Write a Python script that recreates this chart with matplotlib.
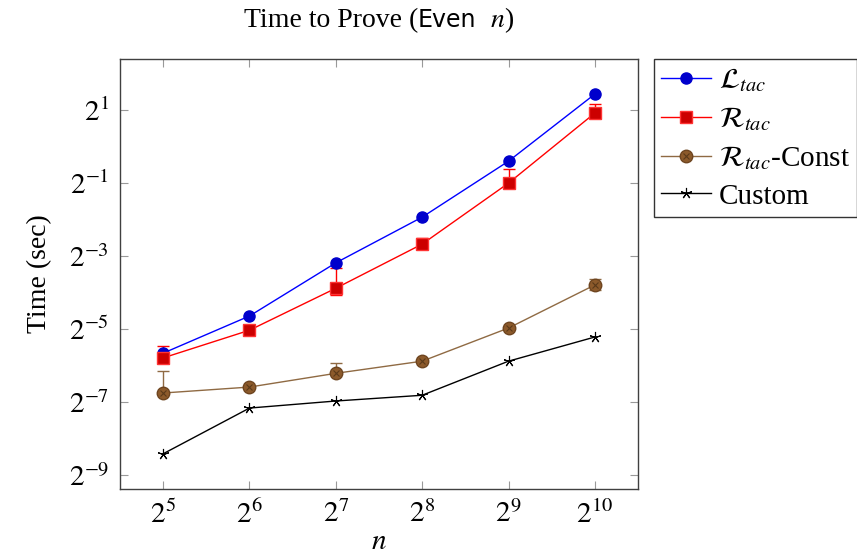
import matplotlib
matplotlib.use('Agg')
import matplotlib.pyplot as plt
from matplotlib.ticker import FixedLocator, NullLocator
from matplotlib.legend_handler import HandlerTuple

plt.rcParams['font.family'] = ['Liberation Serif', 'DejaVu Serif']
plt.rcParams['mathtext.fontset'] = 'stix'

### DATA (seconds)
n_vals = [32, 64, 128, 256, 512, 1024]
l_tac = [0.0198, 0.0401, 0.110, 0.262, 0.758, 2.71]
r_tac = [0.0181, 0.0306, 0.0679, 0.157, 0.500, 1.89]
r_const = [0.00929, 0.0104, 0.0135, 0.0170, 0.0319, 0.0723]
custom = [0.00293, 0.00698, 0.00798, 0.00890, 0.0170, 0.0269]

r_tac_err_lo = [0.0, 0.0, 0.0084, 0.0, 0.0, 0.0]
r_tac_err_hi = [0.0045, 0.0, 0.0315, 0.019, 0.151, 0.34]
r_const_err_lo = [0.0, 0.0, 0.0, 0.0, 0.0, 0.0067]
r_const_err_hi = [0.0048, 0.0, 0.0029, 0.0, 0.0, 0.0085]

x_exps = [5, 6, 7, 8, 9, 10]
y_exps = [1, -1, -3, -5, -7, -9]

W, H = 857, 558
fig = plt.figure(figsize=(W / 100, H / 100), dpi=100)
ax = fig.add_axes([120 / W, 1 - 489 / H, (638 - 120) / W, (489 - 59) / H])
ax.set_xscale('log', base=2)
ax.set_yscale('log', base=2)

blue = '#0000ff'
red = '#ff0000'
brown_line = '#8f6a43'
brown_fill = '#8c5a2b'

h1, = ax.plot(n_vals, l_tac, color=blue, lw=1.0, marker='o', ms=8,
              mfc='#0000cc', mec='#0000cc', zorder=4)

ax.errorbar(n_vals, r_tac, yerr=[r_tac_err_lo, r_tac_err_hi], fmt='none',
            ecolor=red, elinewidth=1.0, capsize=4, capthick=1.0, zorder=3)
h2, = ax.plot(n_vals, r_tac, color=red, lw=1.0, marker='s', ms=8,
              mfc='#cc0000', mec='#ff3333', zorder=4)

ax.errorbar(n_vals, r_const, yerr=[r_const_err_lo, r_const_err_hi], fmt='none',
            ecolor=brown_line, elinewidth=1.0, capsize=4, capthick=1.0, zorder=3)
h3, = ax.plot(n_vals, r_const, color=brown_line, lw=1.0, marker='o', ms=9,
              mfc=brown_fill, mec='#6e4520', zorder=4)
h3x, = ax.plot(n_vals, r_const, ls='none', marker='x', ms=5, mew=0.8,
               mec='#5a3a1a', zorder=5)

h4, = ax.plot(n_vals, custom, color='black', lw=1.0, marker=(5, 2, 0), ms=8,
              mew=0.8, zorder=4)

ax.set_xlim(2 ** 4.5, 2 ** 10.5)
ax.set_ylim(2 ** -9.38, 2 ** 2.40)

ax.xaxis.set_major_locator(FixedLocator([2 ** e for e in x_exps]))
ax.yaxis.set_major_locator(FixedLocator([2 ** e for e in y_exps]))
ax.xaxis.set_minor_locator(NullLocator())
ax.yaxis.set_minor_locator(NullLocator())
ax.set_xticklabels([r'$2^{%d}$' % e for e in x_exps])
ax.set_yticklabels([r'$2^{%d}$' % e for e in y_exps])
ax.tick_params(which='major', direction='in', length=6, width=0.8,
               color='#999999', labelsize=21, top=True, right=True, pad=8)

for sp in ax.spines.values():
    sp.set_color('#404040')
    sp.set_linewidth(1.0)

ax.set_xlabel(r'$n$', fontsize=21, labelpad=0)
ax.set_ylabel('Time (sec)', fontsize=20, labelpad=12)

# title in pieces: serif text, sans "Even", italic n
title_y = 1 - 27 / H
pieces = [('Time to Prove (', {'fontsize': 20}),
          ('Even', {'fontsize': 17, 'family': 'DejaVu Sans'}),
          (r'  $n$)', {'fontsize': 20})]
renderer = fig.canvas.get_renderer()
texts = []
widths = []
for s, kw in pieces:
    t = fig.text(0, title_y, s, ha='left', va='baseline', **kw)
    texts.append(t)
    widths.append(t.get_window_extent(renderer).width / W)
x0 = (120 + 638) / 2 / W - sum(widths) / 2
for t, w in zip(texts, widths):
    t.set_x(x0)
    x0 += w

leg = fig.legend([h1, h2, (h3, h3x), h4],
                 [r'$\mathcal{L}_{tac}$', r'$\mathcal{R}_{tac}$',
                  r'$\mathcal{R}_{tac}$-Const', 'Custom'],
                 handler_map={tuple: HandlerTuple(ndivide=1)},
                 loc='upper left', bbox_to_anchor=(654 / W, 1 - 59 / H),
                 fontsize=21, frameon=True, fancybox=False, handlelength=1.7,
                 handletextpad=0.28, borderpad=0.25, labelspacing=0.38,
                 borderaxespad=0)
leg.get_frame().set_edgecolor('black')
leg.get_frame().set_linewidth(1.0)

fig.savefig('out.png', dpi=100)
